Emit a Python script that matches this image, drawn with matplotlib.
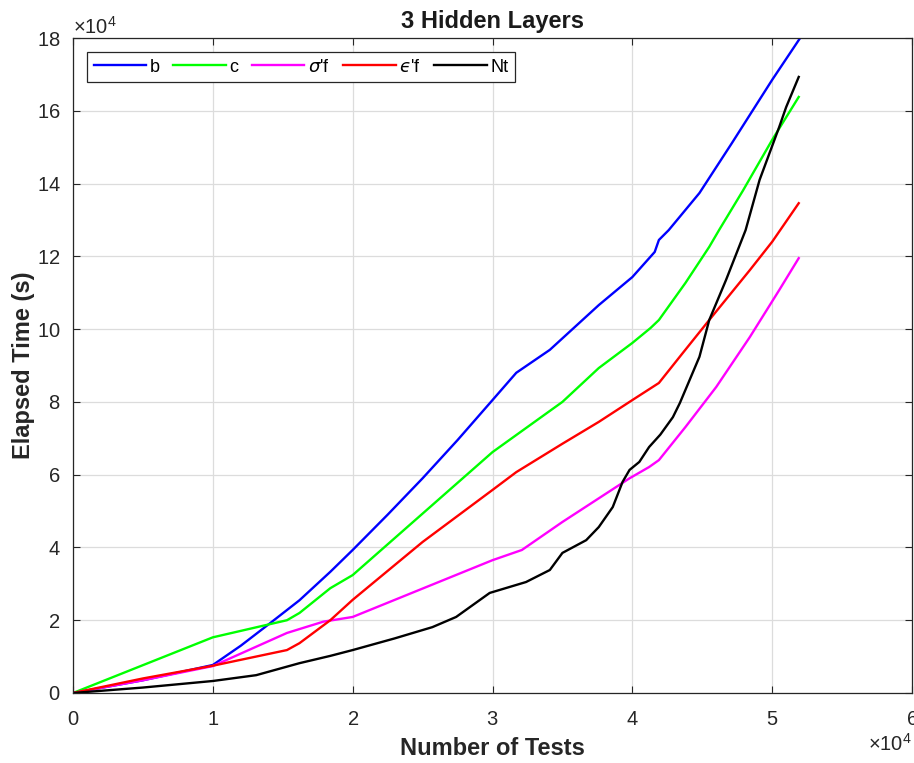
import matplotlib
matplotlib.use("Agg")
import matplotlib.pyplot as plt
from matplotlib.ticker import ScalarFormatter, MultipleLocator

plt.rcParams['font.family'] = ['Liberation Sans', 'DejaVu Sans']
plt.rcParams['mathtext.fontset'] = 'custom'
plt.rcParams['mathtext.rm'] = 'Liberation Sans'
plt.rcParams['mathtext.it'] = 'DejaVu Sans:italic'

# ---- data (x: number of tests, y: elapsed time in s) ----
x_b = [0, 5000, 10000, 12000, 14100, 16200, 18400, 20000, 22500, 25000, 27500, 30000,
       31700, 34100, 37600, 40000, 41600, 41900, 42600, 44800, 47100, 50000, 52000]
y_b = [0, 3500, 7700, 13000, 19200, 25500, 33300, 39300, 49000, 59000, 69500, 80500,
       88000, 94300, 106600, 114300, 121200, 124500, 127200, 137400, 151000, 168500, 180000]

x_c = [0, 10000, 15300, 16200, 18400, 20000, 25000, 30000, 35000, 37600, 40000, 41300,
       41900, 43800, 45500, 46200, 47900, 50000, 51900]
y_c = [0, 15300, 20000, 22000, 28800, 32400, 49300, 66200, 80000, 89300, 96200, 100300,
       102500, 112700, 122600, 127200, 138000, 152000, 163800]

x_s = [0, 5000, 10000, 15300, 17900, 20000, 25000, 30000, 32100, 35000, 39800, 41200,
       41900, 43800, 46000, 48400, 50500, 51900]
y_s = [0, 3500, 7400, 16500, 19600, 20900, 28700, 36500, 39300, 47000, 59000, 62100,
       64000, 73100, 84100, 97800, 110700, 119500]

x_e = [0, 5000, 10000, 15300, 16200, 18400, 20000, 25000, 30000, 31700, 35000, 37600,
       40000, 41900, 43600, 45500, 48400, 50000, 51900]
y_e = [0, 4000, 7500, 11800, 13700, 20000, 25600, 41500, 55800, 60700, 68500, 74500,
       80500, 85200, 93400, 102500, 116200, 124000, 134600]

x_n = [0, 5000, 10000, 13100, 16200, 18400, 20000, 23000, 25700, 27400, 29800, 32400,
       34100, 35000, 36700, 37600, 38600, 39300, 39800, 40500, 41200, 42000, 42900,
       43400, 44800, 45500, 46700, 48100, 49100, 50500, 51000, 51900]
y_n = [0, 1500, 3300, 4900, 8200, 10200, 11800, 15000, 18100, 20900, 27500, 30500,
       33800, 38500, 42000, 45600, 51100, 58000, 61300, 63500, 67600, 71000, 75800,
       79700, 92400, 102500, 113500, 127200, 141000, 155500, 161000, 169300]

series = [
    (x_b, y_b, 'b', (0, 0, 1)),
    (x_c, y_c, 'c', (0, 1, 0)),
    (x_s, y_s, "$\u03c3$'f", (1, 0, 1)),
    (x_e, y_e, "$\u03f5$'f", (1, 0, 0)),
    (x_n, y_n, 'Nt', (0, 0, 0)),
]

fig = plt.figure(figsize=(9.14, 7.63), dpi=100)
ax = fig.add_axes([73/914, 1-693/763, 839/914, 655/763])

for xs, ys, lab, col in series:
    ax.plot(xs, ys, color=col, lw=1.7, label=lab)

ax.set_xlim(0, 60000)
ax.set_ylim(0, 180000)
ax.xaxis.set_major_locator(MultipleLocator(10000))
ax.yaxis.set_major_locator(MultipleLocator(20000))
for axis in (ax.xaxis, ax.yaxis):
    fmt = ScalarFormatter(useMathText=True)
    fmt.set_powerlimits((4, 4))
    axis.set_major_formatter(fmt)

ax.grid(True, color='#dcdcdc', lw=0.9)
ax.set_axisbelow(True)
ax.tick_params(direction='in', top=True, right=True, length=5, width=0.8,
               labelsize=14.5, colors='#262626', labelcolor='#262626')
ax.tick_params(axis='x', pad=12)
ax.tick_params(axis='y', pad=9)
for sp in ax.spines.values():
    sp.set_color('#262626')
    sp.set_linewidth(0.9)
ax.xaxis.get_offset_text().set_fontsize(14.5)
ax.yaxis.get_offset_text().set_fontsize(14.5)
ax.xaxis.get_offset_text().set_color('#262626')
ax.yaxis.get_offset_text().set_color('#262626')

ax.set_title('3 Hidden Layers', fontsize=17, fontweight='bold', pad=7, color='#1a1a1a')
ax.set_xlabel('Number of Tests', fontsize=17, fontweight='bold', labelpad=6, color='#262626')
ax.set_ylabel('Elapsed Time (s)', fontsize=17, fontweight='bold', labelpad=1.5, color='#262626')

leg = ax.legend(loc='upper left', ncol=5, fontsize=13, frameon=True, fancybox=False,
                edgecolor='#262626', framealpha=1, handlelength=2.9, handletextpad=0.2,
                columnspacing=0.75, borderaxespad=0.8, borderpad=0.35)
leg.get_frame().set_linewidth(0.9)

fig.savefig('out.png', dpi=100)
